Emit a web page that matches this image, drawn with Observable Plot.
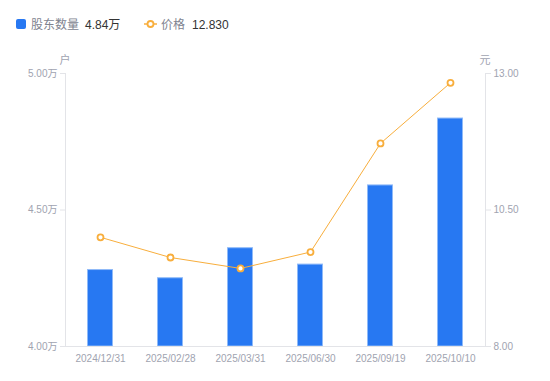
<!DOCTYPE html>
<html><head><meta charset="utf-8">
<script src="https://cdn.jsdelivr.net/npm/d3@7"></script>
<script src="https://cdn.jsdelivr.net/npm/@observablehq/plot@0.6"></script>
<style>
body{margin:0;background:#fff;font-family:"Liberation Sans",Arial,"Noto Sans CJK SC",sans-serif;}
#legend{position:relative;height:48px;width:550px;font-size:12px;}
#legend span{position:absolute;top:18px;line-height:14px;white-space:nowrap;}
</style></head>
<body>
<div id="legend"></div>
<div id="chart"></div>
<script>
const dates = ["2024/12/31","2025/02/28","2025/03/31","2025/06/30","2025/09/19","2025/10/10"];
const holders = [4.28, 4.25, 4.36, 4.30, 4.59, 4.835]; // 万户
const prices = [10.00, 9.63, 9.43, 9.73, 11.72, 12.83]; // 元
const leftTicks = [4.0, 4.5, 5.0];
const rightTicks = [8.0, 10.5, 13.0];

const blue = "#2778f2", orange = "#f8ae3c", gray = "#a0a3b0";
const data = dates.map((d,i)=>({date:d, h:holders[i], p:prices[i]}));
const pToY = p => 4 + (p - 8) / 5;

const lg = document.getElementById("legend");
lg.innerHTML = `
<svg width="550" height="48" style="position:absolute;left:0;top:0">
  <rect x="16" y="19" width="10" height="10" rx="2" fill="${blue}"/>
  <line x1="144" y1="24" x2="157" y2="24" stroke="${orange}" stroke-width="1.5"/>
  <circle cx="150.5" cy="24" r="3" fill="#fff" stroke="${orange}" stroke-width="1.8"/>
</svg>
<span style="left:31px;color:#80838f">股东数量</span>
<span style="left:85px;color:#333">4.84万</span>
<span style="left:161px;color:#80838f">价格</span>
<span style="left:192px;color:#333">12.830</span>`;

const chart = Plot.plot({
  width: 550, height: 333,
  marginTop: 25, marginBottom: 35, marginLeft: 65, marginRight: 65,
  style: {fontFamily: '"Liberation Sans",Arial,"Noto Sans CJK SC",sans-serif', fontSize: "10px", background: "#fff"},
  x: {domain: dates, padding: 0, label: null},
  y: {domain: [4, 5], label: null},
  marks: [
    Plot.barY(data, {x: "date", y1: () => 4, y2: "h", fill: blue, stroke: "#8fbaf8", strokeWidth: 1, insetLeft: 22.5, insetRight: 22.5}),
    Plot.ruleY([4], {stroke: "#e3e4e8"}),
    Plot.axisY(leftTicks, {anchor: "left", tickFormat: d => d.toFixed(2) + "万", stroke: "#e3e4e8", color: gray, tickSize: 5, tickPadding: 3, label: null}),
    Plot.axisY(leftTicks, {anchor: "right", tickFormat: (d,i) => rightTicks[i].toFixed(2), stroke: "#e3e4e8", color: gray, tickSize: 5, tickPadding: 3, label: null}),
    Plot.frame({anchor: "left", stroke: "#e3e4e8"}),
    Plot.frame({anchor: "right", stroke: "#e3e4e8"}),
    Plot.axisX({tickSize: 0, tickPadding: 8, color: gray, label: null}),
    Plot.line(data, {x: "date", y: d => pToY(d.p), stroke: orange, strokeWidth: 1}),
    Plot.dot(data, {x: "date", y: d => pToY(d.p), r: 3, fill: "#fff", stroke: orange, strokeWidth: 1.8}),
    Plot.text(["户"], {frameAnchor: "top-left", dx: -6, dy: -17, fill: gray, fontSize: 11}),
    Plot.text(["元"], {frameAnchor: "top-right", dx: 5, dy: -17, fill: gray, fontSize: 11})
  ]
});
document.getElementById("chart").appendChild(chart);
</script>
</body></html>
